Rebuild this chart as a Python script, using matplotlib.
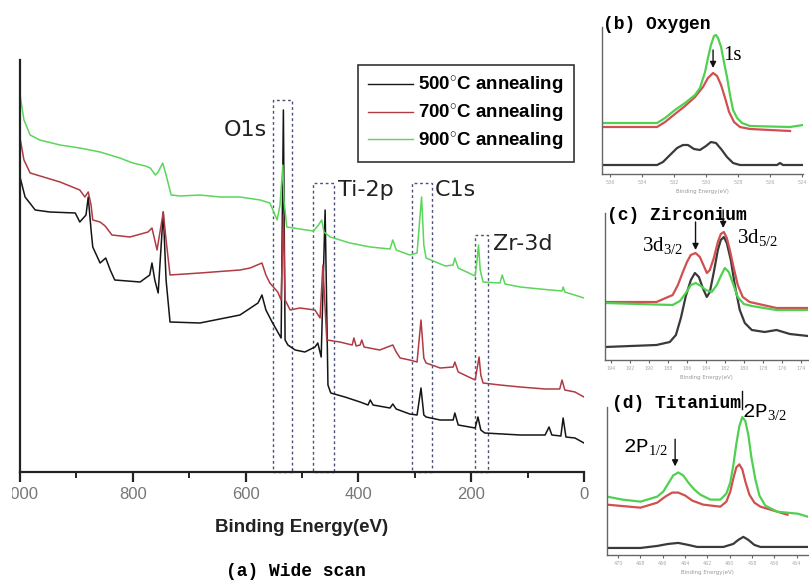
import matplotlib
matplotlib.use('Agg')
import matplotlib.pyplot as plt
from matplotlib.patches import Rectangle
from matplotlib.lines import Line2D
from matplotlib.transforms import Bbox

plt.rcParams['mathtext.fontset'] = 'custom'
plt.rcParams['mathtext.rm'] = 'Liberation Serif'
plt.rcParams['mathtext.it'] = 'Liberation Serif:italic'
plt.rcParams['mathtext.bf'] = 'Liberation Serif:bold'

# ---- wide scan (a): (binding energy eV, intensity a.u.) ----
wide_500 = [(1000,295),(991,275),(973,262),(947,260),(902,259),(894,250),(883,257),(879,275),(874,242),(871,225),
            (858,209),(848,214),(840,202),(832,192),(787,190),(770,197),(766,209),(761,192),(755,179),(746,260),
            (741,192),(734,150),(681,149),(610,157),(578,169),(571,177),(564,162),(553,150),(543,140),(537,134),
            (533,362),(530,132),(525,127),(512,122),(495,120),(477,125),(472,129),(466,115),(459,262),(454,87),
            (449,79),(424,75),(397,70),(383,67),(379,72),(374,67),(344,64),(339,68),(333,63),(309,58),(296,57),
            (289,84),(284,57),(280,55),(255,52),(232,52),(229,59),(223,47),(193,44),(188,55),(183,42),(176,39),
            (113,37),(69,37),(62,45),(57,37),(41,36),(37,54),(32,35),(16,34),(0,29)]
wide_700 = [(1000,334),(993,312),(982,299),(929,290),(894,282),(885,275),(879,280),(874,267),(871,252),(858,250),
            (849,246),(837,237),(805,235),(773,240),(766,244),(757,222),(746,260),(741,232),(734,197),(681,199),
            (610,202),(592,204),(571,209),(564,197),(557,189),(543,180),(537,172),(533,257),(530,172),(521,162),
            (504,164),(477,162),(468,154),(463,207),(457,142),(456,132),(433,130),(411,127),(408,134),(404,126),
            (397,127),(394,132),(390,125),(362,122),(353,124),(339,127),(333,120),(326,114),(309,112),(296,110),
            (289,152),(284,114),(280,109),(255,104),(232,105),(229,110),(223,100),(193,92),(190,102),(186,115),
            (183,97),(179,89),(149,87),(113,85),(69,83),(43,83),(39,92),(34,82),(16,80),(0,75)]
wide_900 = [(1000,377),(993,352),(982,337),(965,332),(929,327),(894,324),(858,320),(823,314),(800,309),(778,306),
            (769,304),(760,297),(755,300),(747,309),(741,297),(732,277),(716,276),(681,277),(645,275),(610,275),
            (574,272),(557,269),(550,260),(544,252),(539,267),(534,307),(532,272),(527,245),(504,243),(480,241),
            (472,246),(465,252),(461,240),(450,235),(415,229),(379,225),(344,223),(339,232),(333,222),(309,217),
            (296,219),(288,275),(284,227),(280,214),(246,206),(232,207),(229,214),(223,204),(193,196),(190,210),
            (187,227),(184,202),(179,190),(149,189),(145,197),(140,188),(113,185),(78,183),(39,181),(37,185),
            (34,180),(0,174)]
labels = ['500$^{\\circ}$C annealing', '700$^{\\circ}$C annealing', '900$^{\\circ}$C annealing']

# marked regions in the wide scan
box_names = ['O1s', 'Ti-2p', 'C1s', 'Zr-3d']
box_lo = [518, 443, 270, 170]
box_hi = [551, 480, 305, 193]
box_top = [372, 289, 289, 237]

# ---- (b) oxygen 1s ----
ox_500 = [(536.5,9),(533.06,9),(532.69,12),(532.25,19),(531.81,26),(531.44,29),(531.13,29),(530.75,25),(530.38,24),
          (530.0,28),(529.69,32),(529.38,31),(529.06,25),(528.69,17),(528.31,11),(527.88,9),(525.56,9),(525.38,11),
          (525.19,9),(524.0,9)]
ox_700 = [(536.5,47),(533.06,47),(532.56,52),(531.94,60),(531.31,68),(530.69,77),(530.19,87),(529.88,96),(529.56,101),
          (529.31,98),(529.06,89),(528.81,76),(528.56,62),(528.25,52),(527.88,47),(527.25,45),(524.75,43)]
ox_900 = [(536.5,51),(533.06,51),(532.56,56),(531.94,64),(531.31,71),(530.69,79),(530.38,86),(530.06,102),(529.88,116),
          (529.69,129),(529.5,138),(529.38,139),(529.25,136),(529.06,127),(528.88,112),(528.69,97),(528.5,79),
          (528.31,64),(528.06,56),(527.75,51),(527.25,48),(524.75,47),(523.94,49)]

# ---- (c) zirconium 3d ----
zr_500 = [(194.6,13),(189.2,15),(187.8,18),(187.16,25),(186.64,42),(186.12,64),(185.59,80),(185.17,87),(184.75,83),
          (184.34,72),(183.92,63),(183.6,68),(183.18,88),(182.76,110),(182.45,120),(182.13,123),(181.82,117),
          (181.4,100),(180.98,75),(180.46,50),(179.93,37),(179.2,30),(177.85,28),(176.6,30),(175.2,26),(173.3,24)]
zr_700 = [(194.6,58),(189.2,58),(187.5,65),(186.95,75),(186.43,88),(186.0,98),(185.6,105),(185.1,107),(184.65,103),
          (184.23,94),(183.91,87),(183.6,90),(183.18,102),(182.76,118),(182.45,126),(182.13,128),(181.82,122),
          (181.5,110),(181.09,92),(180.67,75),(180.15,63),(179.42,58),(176.6,52),(173.3,52)]
zr_900 = [(194.6,57),(187.5,55),(186.74,59),(186.12,67),(185.59,75),(185.07,77),(184.55,74),(184.02,70),(183.4,68),
          (182.87,75),(182.45,84),(182.03,92),(181.61,88),(181.19,77),(180.67,63),(180.04,56),(179.2,54),(176.6,50),
          (173.3,50)]

# ---- (d) titanium 2p ----
ti_500 = [(471.0,7),(468.0,7),(466.5,9),(465.52,11),(464.62,12),(463.72,10),(462.93,8),(460.58,8),(459.69,11),
          (459.24,15),(458.79,18),(458.34,15),(457.8,10),(457.26,8),(453.0,8)]
ti_700 = [(471.0,50),(468.0,47),(466.5,52),(465.78,58),(465.16,62),(464.62,62),(463.99,59),(463.36,54),(462.38,50),
          (460.85,48),(460.31,53),(459.96,63),(459.69,76),(459.42,87),(459.15,90),(458.88,85),(458.61,73),
          (458.25,60),(457.8,52),(457.26,48),(455.74,43),(454.84,40)]
ti_900 = [(471.0,58),(469.6,55),(468.0,53),(466.5,58),(465.96,63),(465.52,71),(465.07,79),(464.62,82),(464.17,79),
          (463.72,72),(463.18,65),(462.65,60),(461.75,55),(460.85,55),(460.31,61),(459.96,72),(459.69,89),
          (459.42,110),(459.15,128),(458.88,137),(458.61,133),(458.34,119),(458.07,97),(457.71,75),(457.35,59),
          (456.82,49),(455.74,43),(453.9,41),(453.0,38)]

main_colors = ['#151515', '#b03a44', '#5ad65a']
ins_colors = ['#3a3a3a', '#d0504f', '#50d050']


def xy(pairs):
    return [p[0] for p in pairs], [p[1] for p in pairs]


fig = plt.figure(figsize=(8.09, 5.85), dpi=100)

# main wide scan
ax = fig.add_axes([20/809, 113/585, 564/809, 412/585])
for spec, c in zip([wide_500, wide_700, wide_900], main_colors):
    x, y = xy(spec)
    ax.plot(x, y, color=c, lw=1.1)
ax.set_xlim(1000, 0)
ax.set_ylim(0, 412)
ax.set_yticks([])
for s in ['top', 'right']:
    ax.spines[s].set_visible(False)
for s in ['left', 'bottom']:
    ax.spines[s].set_linewidth(1.6)
    ax.spines[s].set_color('#222')
ax.set_xticks([0, 200, 400, 600, 800, 1000])
ax.set_xticks([100, 300, 500, 700, 900], minor=True)
ax.tick_params(axis='x', which='major', direction='out', length=7, width=1.6, color='#222',
               labelsize=12, labelcolor='#777', pad=4)
ax.tick_params(axis='x', which='minor', direction='out', length=4, width=1.4, color='#222')
for lab in ax.get_xticklabels():
    lab.set_fontfamily('Liberation Sans')
    if lab.get_text() == '1000':
        # the left edge of the original picture cuts the leading "1"
        lab.set_clip_on(True)
        lab.set_clip_box(Bbox.from_extents(12, 0, 809, 585))
ax.set_xlabel('Binding Energy(eV)', fontsize=13.5, fontweight='bold', color='#222',
              fontfamily='Liberation Sans')
ax.xaxis.set_label_coords(0.5, -0.1335)
ax.xaxis.label.set_va('center')

for lo, hi, top in zip(box_lo, box_hi, box_top):
    ax.add_patch(Rectangle((lo, 0), hi - lo, top, fill=False, ls=(0, (2, 2)), lw=1.0,
                           ec='#4a4f7a', clip_on=False))
ax.text(562, 342, box_names[0], fontsize=16, color='#222', ha='right', va='center')
ax.text(436, 282, box_names[1], fontsize=16, color='#222', ha='left', va='center')
ax.text(264, 282, box_names[2], fontsize=16, color='#222', ha='left', va='center')
ax.text(161, 228, box_names[3], fontsize=16, color='#222', ha='left', va='center')

handles = [Line2D([], [], color=c, lw=1.0) for c in main_colors]
ax.legend(handles, labels, loc='upper left', bbox_to_anchor=(358/809, 1 - 65/585),
          bbox_transform=fig.transFigure, borderaxespad=0, fancybox=False, framealpha=1,
          edgecolor='#333', handlelength=2.4, handletextpad=0.27, labelspacing=0.35,
          borderpad=0.55, prop={'family': 'Liberation Sans', 'weight': 'bold', 'size': 13.5})
ax.get_legend().get_frame().set_linewidth(1.2)

fig.text(296/809, 1 - 572/585, '(a) Wide scan', fontsize=13, fontfamily='Liberation Mono',
         fontweight='bold', ha='center', va='center')


def make_inset(rect, xlim, ticks, specs, title, title_xy):
    a = fig.add_axes(rect)
    for spec, c in zip(specs, ins_colors):
        x, y = xy(spec)
        a.plot(x, y, color=c, lw=1.6)
    a.set_xlim(*xlim)
    a.set_ylim(0, 147)
    a.set_yticks([])
    for s in ['top', 'right']:
        a.spines[s].set_visible(False)
    for s in ['left', 'bottom']:
        a.spines[s].set_color('#666')
        a.spines[s].set_linewidth(1.0)
    a.set_xticks(ticks)
    a.set_xticklabels([str(t) for t in ticks])
    a.tick_params(axis='x', length=2.5, width=0.8, color='#666', labelsize=3.5,
                  labelcolor='#aaa', pad=1.5)
    a.set_xlabel('Binding Energy(eV)', fontsize=4, color='#999', labelpad=3)
    a.text(title_xy[0], title_xy[1], title, transform=a.transAxes, fontsize=13,
           fontfamily='Liberation Mono', fontweight='bold', va='center', ha='left', clip_on=False)
    return a


arrow = dict(arrowstyle='-|>', color='#111', lw=1.0, mutation_scale=9, shrinkA=0, shrinkB=0)

# (b)
axb = make_inset([602/809, 411/585, 201/809, 147/585], (536.5, 523.94),
                 [536, 534, 532, 530, 528, 526, 524], [ox_500, ox_700, ox_900],
                 '(b) Oxygen', (0.005, 1.014))
axb.annotate('', xy=(529.56, 106), xytext=(529.56, 124), arrowprops=arrow)
axb.text(528.94, 119, '1s', fontsize=15, fontfamily='Liberation Serif', va='center', ha='left')

# (c)
axc = make_inset([605/809, 225/585, 203/809, 147/585], (194.6, 173.3),
                 list(range(194, 173, -2)), [zr_500, zr_700, zr_900],
                 '(c) Zirconium', (0.01, 0.986))
axc.annotate('', xy=(185.1, 110), xytext=(185.1, 138), arrowprops=arrow)
axc.annotate('', xy=(182.2, 132), xytext=(182.2, 150), arrowprops=arrow, annotation_clip=False)
axc.text(190.7, 115, '3d$_{3/2}$', fontsize=15, fontfamily='Liberation Serif', va='center', ha='left')
axc.text(180.7, 123, '3d$_{5/2}$', fontsize=15, fontfamily='Liberation Serif', va='center', ha='left')

# (d)
axd = make_inset([607/809, 30/585, 201/809, 148/585], (471.0, 453.0),
                 list(range(470, 453, -2)), [ti_500, ti_700, ti_900],
                 '(d) Titanium', (0.025, 1.027))
axd.annotate('', xy=(464.9, 88), xytext=(464.9, 115), arrowprops=arrow)
axd.plot([458.9, 458.9], [145, 163], color='#111', lw=1.0, clip_on=False)
axd.text(469.6, 107, '2P$_{1/2}$', fontsize=15, fontfamily='Liberation Mono', va='center', ha='left')
axd.text(458.9, 142, '2P$_{3/2}$', fontsize=15, fontfamily='Liberation Mono', va='center', ha='left')

fig.savefig('out.png', dpi=100)
